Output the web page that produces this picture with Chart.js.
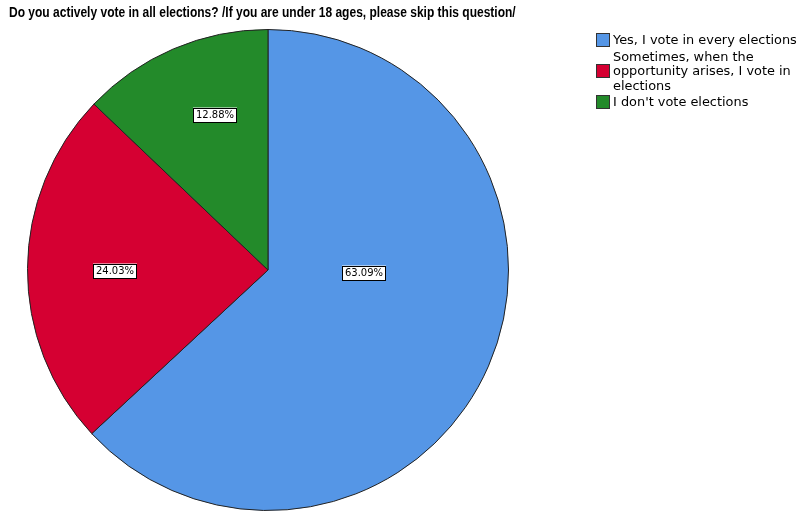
<!DOCTYPE html>
<html>
<head>
<meta charset="utf-8">
<script src="https://cdn.jsdelivr.net/npm/chart.js@4"></script>
<style>
  body { margin: 0; background: #fff; }
  #wrap { position: relative; width: 800px; height: 511px; overflow: hidden; }
  #title { position: absolute; left: 9px; top: 3px; font: bold 15.5px "Liberation Sans", sans-serif; color: #000; white-space: nowrap; transform: scaleX(0.775); transform-origin: 0 0; }
  #legend { position: absolute; left: 596px; top: 33px; font: 12.9px "DejaVu Sans", sans-serif; color: #000; line-height: 14.5px; }
  .item { display: flex; align-items: center; margin-bottom: 2px; }
  .sw { width: 12px; height: 12px; border: 1px solid #333; margin-right: 3px; flex: none; }
</style>
</head>
<body>
<div id="wrap">
  <canvas id="pie" width="800" height="511"></canvas>
  <div id="title">Do you actively vote in all elections? /If you are under 18 ages, please skip this question/</div>
  <div id="legend"></div>
</div>
<script>
// Chart data
const categories = ['Yes, I vote in every elections', 'Sometimes, when the opportunity arises, I vote in elections', "I don't vote elections"];
const legendLines = [['Yes, I vote in every elections'], ['Sometimes, when the', 'opportunity arises, I vote in', 'elections'], ["I don't vote elections"]];
const percents = [63.09, 24.03, 12.88];
const colors = ['#5596E6', '#D50032', '#238A2A'];

// where SPSS put each label box: angle (deg, clockwise from top), fraction of radius
const labelSpots = [[91, 0.40], [270, 0.635], [341.2, 0.685]];

// legend built as html so the wrapped lines stay like the original
const legendEl = document.getElementById('legend');
legendLines.forEach((lines, i) => {
  const row = document.createElement('div');
  row.className = 'item';
  row.innerHTML = `<span class="sw" style="background:${colors[i]}"></span><span>${lines.join('<br>')}</span>`;
  legendEl.appendChild(row);
});

// draws the boxed percent labels on the slices
const boxLabels = {
  id: 'boxLabels',
  afterDatasetsDraw(chart) {
    const ctx = chart.ctx;
    const arcs = chart.getDatasetMeta(0).data;
    ctx.save();
    ctx.font = '10px "DejaVu Sans", sans-serif';
    ctx.textAlign = 'center';
    ctx.textBaseline = 'middle';
    arcs.forEach((arc, i) => {
      const [deg, f] = labelSpots[i];
      const a = deg * Math.PI / 180;
      const x = Math.round(arc.x + Math.sin(a) * arc.outerRadius * f);
      const y = Math.round(arc.y - Math.cos(a) * arc.outerRadius * f) + 1;
      const txt = percents[i].toFixed(2) + '%';
      const w = Math.ceil(ctx.measureText(txt).width) + 5;
      const h = 15;
      ctx.fillStyle = '#fff';
      ctx.fillRect(x - w / 2, y - h / 2, w, h);
      ctx.strokeStyle = '#000';
      ctx.lineWidth = 1;
      ctx.strokeRect(Math.round(x - w / 2) + 0.5, Math.round(y - h / 2) + 0.5, w - 1, h - 1);
      ctx.fillStyle = '#000';
      ctx.fillText(txt, x, y + 0.5);
    });
    ctx.restore();
  }
};

new Chart(document.getElementById('pie'), {
  type: 'pie',
  data: {
    labels: categories,
    datasets: [{
      data: percents,
      backgroundColor: colors,
      borderColor: '#222',
      borderWidth: 1
    }]
  },
  options: {
    responsive: false,
    animation: false,
    layout: {
      padding: { left: 27, right: 291, top: 29, bottom: 0 }
    },
    plugins: {
      legend: { display: false },
      tooltip: { enabled: false }
    }
  },
  plugins: [boxLabels]
});
</script>
</body>
</html>
